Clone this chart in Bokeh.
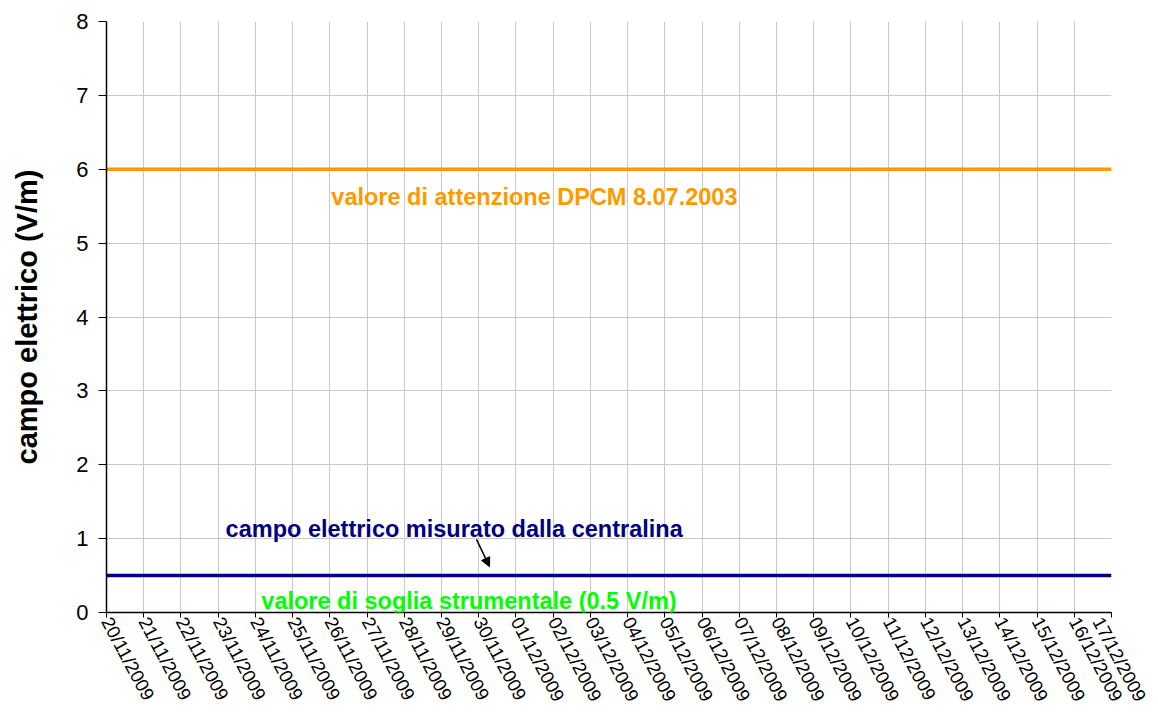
import datetime as dt
from bokeh.plotting import figure
from bokeh.models import (Range1d, FixedTicker, DatetimeTickFormatter, Label, Arrow,
                          NormalHead, ColumnDataSource)
from bokeh.embed import file_html
from bokeh.resources import INLINE

# ---- data ----
dates = ["20/11/2009", "21/11/2009", "22/11/2009", "23/11/2009", "24/11/2009", "25/11/2009",
         "26/11/2009", "27/11/2009", "28/11/2009", "29/11/2009", "30/11/2009", "01/12/2009",
         "02/12/2009", "03/12/2009", "04/12/2009", "05/12/2009", "06/12/2009", "07/12/2009",
         "08/12/2009", "09/12/2009", "10/12/2009", "11/12/2009", "12/12/2009", "13/12/2009",
         "14/12/2009", "15/12/2009", "16/12/2009", "17/12/2009"]
measured = [0.5] * len(dates)          # campo elettrico misurato (sotto soglia)
attention_value = [6.0] * len(dates)   # valore di attenzione DPCM 8.07.2003
y_ticks = [0, 1, 2, 3, 4, 5, 6, 7, 8]

FONT = "Liberation Sans"

dts = [dt.datetime.strptime(d, "%d/%m/%Y") for d in dates]
epoch = dt.datetime(1970, 1, 1)
ms = [(d - epoch).total_seconds() * 1000.0 for d in dts]
DAY = 86400000.0

src = ColumnDataSource(dict(x=dts, measured=measured, att=attention_value))

p = figure(width=1150, height=713, output_backend="svg", toolbar_location=None,
           x_axis_type="datetime",
           x_range=Range1d(dts[0], dts[-1]), y_range=Range1d(0, 8),
           min_border_left=106, min_border_right=39, min_border_top=21, min_border_bottom=100)
p.outline_line_color = None
p.background_fill_color = "white"

p.line("x", "att", source=src, line_color="#FF9900", line_width=3.5)
p.line("x", "measured", source=src, line_color="#000080", line_width=3.5)

# axes
p.xaxis.ticker = FixedTicker(ticks=ms)
p.xaxis.formatter = DatetimeTickFormatter(days="%d/%m/%Y", months="%d/%m/%Y",
                                          hours="%d/%m/%Y", years="%d/%m/%Y")
p.xaxis.major_label_orientation = -1.08
p.xaxis.major_label_text_font = FONT
p.xaxis.major_label_text_font_size = "18.5px"
p.xaxis.major_label_text_color = "black"
p.xaxis.major_label_standoff = 1
p.yaxis.ticker = FixedTicker(ticks=y_ticks)
p.yaxis.major_label_text_font = FONT
p.yaxis.major_label_text_font_size = "22px"
p.yaxis.major_label_text_color = "black"
p.yaxis.major_label_standoff = 10
p.yaxis.axis_label = "campo elettrico (V/m)"
p.yaxis.axis_label_text_font = FONT
p.yaxis.axis_label_text_font_size = "29px"
p.yaxis.axis_label_text_font_style = "bold"
p.yaxis.axis_label_text_color = "black"
p.yaxis.axis_label_standoff = 30
for ax in (p.xaxis, p.yaxis):
    ax.axis_line_color = "black"
    ax.axis_line_width = 1.5
    ax.major_tick_line_color = "black"
    ax.major_tick_in = 0
    ax.minor_tick_line_color = None
p.yaxis.major_tick_out = 8
p.xaxis.major_tick_out = 5

p.xgrid.ticker = FixedTicker(ticks=ms)
p.ygrid.ticker = FixedTicker(ticks=y_ticks)
p.grid.grid_line_color = "#C8C8C8"
p.grid.grid_line_width = 1

# annotations
def xd(days):
    return ms[0] + days * DAY

p.add_layout(Label(x=xd(6.04), y=5.63, text="valore di attenzione DPCM 8.07.2003",
                   text_color="#FF9900", text_font=FONT, text_font_size="23.5px",
                   text_font_style="bold", text_baseline="middle"))
p.add_layout(Label(x=xd(3.2), y=1.13, text="campo elettrico misurato dalla centralina",
                   text_color="#000080", text_font=FONT, text_font_size="23.5px",
                   text_font_style="bold", text_baseline="middle"))
p.add_layout(Label(x=xd(4.16), y=0.15, text="valore di soglia strumentale (0.5 V/m)",
                   text_color="#00FF00", text_font=FONT, text_font_size="23.5px",
                   text_font_style="bold", text_baseline="middle"))
p.add_layout(Arrow(x_start=xd(9.94), y_start=0.99, x_end=xd(10.29), y_end=0.62,
                   line_color="black", line_width=1.5,
                   end=NormalHead(size=9, fill_color="black", line_color="black")))

open("out.html", "w").write(file_html(p, INLINE))
